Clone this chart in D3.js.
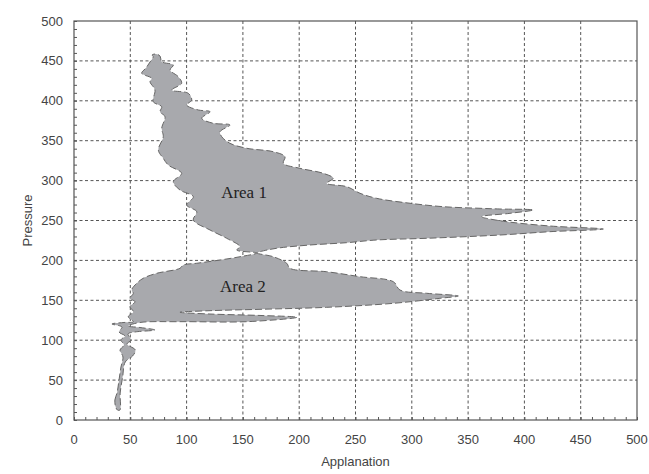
<!DOCTYPE html>
<html>
<head>
<meta charset="utf-8">
<script src="https://cdn.jsdelivr.net/npm/d3@7"></script>
<style>
    html, body { margin: 0; padding: 0; background: #fff; overflow: hidden; }
    svg { display: block; }
</style>
</head>
<body>
<svg id="chart"></svg>
<script>
// Outline of the loop, traced once round (applanation, pressure)
const applanation = [
    37.0, 36.3, 38.2, 40.0, 41.7, 43.5, 40.9, 44.4, 41.7, 45.3, 40.0, 42.6, 33.7, 44.4,
    52.7, 48.2, 52.7, 49.7, 54.2, 49.7, 52.7, 51.2, 55.7, 61.5, 73.4, 94.1, 97.1, 109.0,
    129.7, 147.4, 162.3,
    144.5, 147.4, 135.6, 120.8, 106.0, 109.0, 100.1, 106.0, 94.1, 88.2, 95.6, 83.7, 79.3,
    74.9, 79.3, 77.9, 80.8, 76.4, 77.9, 70.4, 71.9, 67.5, 69.0, 60.1, 63.9, 67.5, 70.4,
    69.3, 72.8, 76.4,
    77.9, 88.2, 85.3, 92.6, 95.6, 86.8, 101.5, 104.5, 100.1, 110.4, 120.8, 113.4, 123.7,
    138.5, 129.7, 131.2, 138.5, 153.4, 177.0, 187.4, 185.9, 200.7, 221.4, 230.3, 224.4,
    242.2, 254.0, 268.8, 298.4, 328.0, 360.6, 378.3, 407.9, 387.2, 362.1, 378.3, 422.7,
    470.1, 422.7, 378.3, 313.2, 268.8, 242.2, 209.6, 180.0, 165.2, 162.3,
    177.0, 188.9, 191.8, 224.4, 254.0, 283.6, 289.5, 313.2, 341.3, 325.0, 283.6, 224.4,
    165.2, 120.8, 94.1,
    120.8, 165.2, 198.0, 153.4, 94.1, 58.6,
    48.0, 58.6, 71.9, 54.2, 48.0, 50.6, 47.0, 54.5, 52.0, 45.5, 43.2, 41.0, 40.8, 38.6
];
const pressure = [
    16.3, 25.1, 33.8, 50.1, 66.4, 78.9, 87.7, 94.0, 100.3, 105.3, 110.3, 116.5, 120.3, 122.2,
    123.2, 129.4, 135.7, 142.0, 148.2, 152.5, 158.8, 162.9, 171.3, 177.6, 183.8, 190.1, 194.2, 196.4,
    200.5, 204.6, 209.3,
    213.0, 217.2, 227.7, 238.1, 250.6, 261.0, 269.4, 279.8, 288.2, 298.6, 309.1, 319.5, 327.9,
    338.3, 355.0, 365.5, 380.1, 386.3, 392.6, 398.9, 413.5, 423.9, 428.2, 434.5, 441.1, 448.6, 455.3,
    457.4, 458.6, 456.1,
    449.0, 444.9, 438.6, 430.2, 421.9, 413.5, 409.4, 401.0, 394.7, 388.5, 386.3, 378.1, 371.8,
    369.7, 361.3, 355.0, 346.7, 340.5, 336.2, 330.0, 321.7, 315.4, 309.1, 302.9, 296.6,
    292.4, 284.1, 277.8, 271.6, 267.3, 265.3, 264.4, 263.2, 259.0, 254.8, 249.7, 243.1,
    239.3, 236.0, 231.8, 227.7, 225.6, 222.2, 219.3, 215.2, 210.9, 209.3,
    204.6, 196.4, 190.1, 185.8, 179.6, 173.3, 162.9, 158.8, 155.4, 152.5, 146.2, 141.2,
    138.7, 137.0, 135.0,
    132.8, 131.0, 128.7, 123.2, 123.2, 122.2,
    117.8, 115.9, 112.8, 110.3, 107.8, 100.3, 95.2, 87.7, 80.2, 72.7, 53.9, 33.8, 12.5, 12.5
];

const xTicks = [0, 50, 100, 150, 200, 250, 300, 350, 400, 450, 500];
const yTicks = [0, 50, 100, 150, 200, 250, 300, 350, 400, 450, 500];
const areaLabels = ['Area 1', 'Area 2'];
const areaLabelX = [151, 150];
const areaLabelY = [286, 168];

const width = 649;
const height = 474;
const margin = { top: 21, right: 12, bottom: 54, left: 74 };
const innerWidth = width - margin.left - margin.right;
const innerHeight = height - margin.top - margin.bottom;

const svg = d3.select('#chart')
    .attr('width', width)
    .attr('height', height)
    .attr('overflow', 'visible');

const g = svg.append('g')
    .attr('transform', `translate(${ margin.left },${ margin.top })`);

const x = d3.scaleLinear().domain([0, 500]).range([0, innerWidth]);
const y = d3.scaleLinear().domain([0, 500]).range([innerHeight, 0]);

// dashed grid
g.append('g')
    .selectAll('line')
    .data(xTicks.slice(1, -1))
    .join('line')
    .attr('x1', d => x(d)).attr('x2', d => x(d))
    .attr('y1', 0).attr('y2', innerHeight)
    .attr('stroke', '#555')
    .attr('stroke-width', 1)
    .attr('stroke-dasharray', '3,2.5');

g.append('g')
    .selectAll('line')
    .data(yTicks.slice(1, -1))
    .join('line')
    .attr('x1', 0).attr('x2', innerWidth)
    .attr('y1', d => y(d)).attr('y2', d => y(d))
    .attr('stroke', '#555')
    .attr('stroke-width', 1)
    .attr('stroke-dasharray', '3,2.5');

// loop outline
const points = applanation.map((a, i) => [a, pressure[i]]);
const line = d3.line()
    .x(d => x(d[0]))
    .y(d => y(d[1]))
    .curve(d3.curveCatmullRomClosed.alpha(0.5));

g.append('path')
    .datum(points)
    .attr('d', line)
    .attr('fill', '#a8a9ad')
    .attr('stroke', '#666')
    .attr('stroke-width', 1)
    .attr('stroke-dasharray', '7,3');

// area labels
g.append('g')
    .selectAll('text')
    .data(areaLabels)
    .join('text')
    .attr('x', (d, i) => x(areaLabelX[i]))
    .attr('y', (d, i) => y(areaLabelY[i]))
    .attr('text-anchor', 'middle')
    .attr('dy', '0.35em')
    .attr('font-family', '"Liberation Serif", "Times New Roman", serif')
    .attr('font-size', 17)
    .attr('fill', '#222')
    .text(d => d);

// axes with minor ticks pointing inward
const minor = d3.range(0, 501, 10);
const xAxis = g.append('g')
    .attr('transform', `translate(0,${ innerHeight })`)
    .call(d3.axisBottom(x).tickValues(minor).tickSize(-3).tickFormat(''));
const yAxis = g.append('g')
    .call(d3.axisLeft(y).tickValues(minor).tickSize(-3).tickFormat(''));

[xAxis, yAxis].forEach(a => {
    a.select('.domain').remove();
    a.selectAll('line').attr('stroke', '#555');
});

g.append('rect')
    .attr('width', innerWidth)
    .attr('height', innerHeight)
    .attr('fill', 'none')
    .attr('stroke', '#555')
    .attr('stroke-width', 1.2);

// tick labels
g.append('g')
    .selectAll('text')
    .data(xTicks)
    .join('text')
    .attr('x', d => x(d))
    .attr('y', innerHeight + 24)
    .attr('text-anchor', 'middle')
    .attr('font-family', '"Liberation Sans", Arial, sans-serif')
    .attr('font-size', 13)
    .attr('fill', '#444')
    .text(d => d);

g.append('g')
    .selectAll('text')
    .data(yTicks)
    .join('text')
    .attr('x', -11)
    .attr('y', d => y(d))
    .attr('dy', '0.35em')
    .attr('text-anchor', 'end')
    .attr('font-family', '"Liberation Sans", Arial, sans-serif')
    .attr('font-size', 13)
    .attr('fill', '#444')
    .text(d => d);

// axis titles
svg.append('text')
    .attr('x', margin.left + innerWidth / 2)
    .attr('y', 466)
    .attr('text-anchor', 'middle')
    .attr('font-family', '"Liberation Sans", Arial, sans-serif')
    .attr('font-size', 13)
    .attr('fill', '#444')
    .text('Applanation');

svg.append('text')
    .attr('transform', `translate(32,${ margin.top + innerHeight / 2 }) rotate(-90)`)
    .attr('text-anchor', 'middle')
    .attr('font-family', '"Liberation Sans", Arial, sans-serif')
    .attr('font-size', 13)
    .attr('fill', '#444')
    .text('Pressure');
</script>
</body>
</html>
